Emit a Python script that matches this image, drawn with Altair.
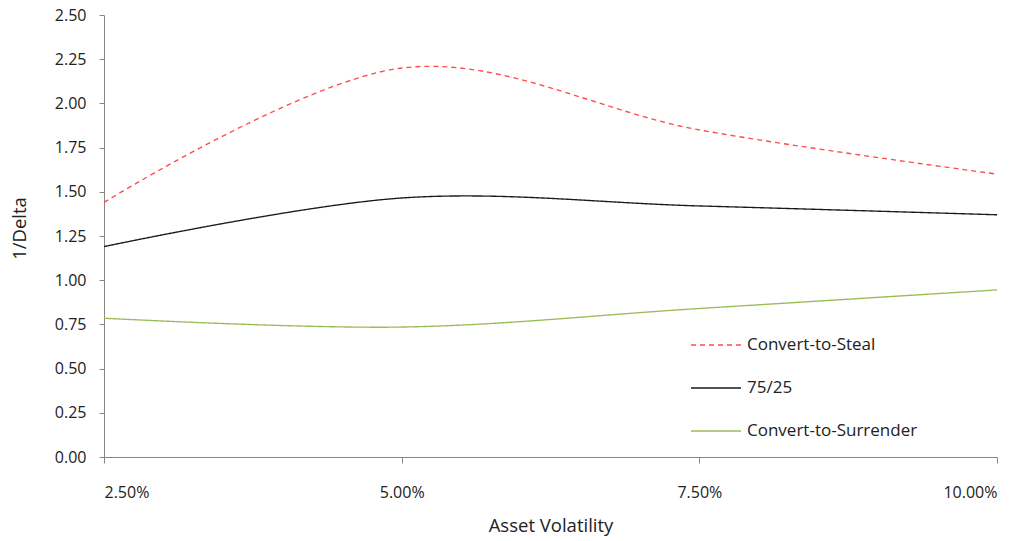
import altair as alt
import pandas as pd

# Asset volatility levels (x) and 1/Delta values for each conversion policy
volatility = [0.025, 0.05, 0.075, 0.10]
convert_to_steal = [1.44, 2.20, 1.85, 1.60]
policy_75_25 = [1.19, 1.465, 1.42, 1.37]
convert_to_surrender = [0.785, 0.735, 0.84, 0.945]

series_names = ["Convert-to-Steal", "75/25", "Convert-to-Surrender"]
series_colors = ["#FF4B4B", "#1A1A1A", "#9BBB59"]
series_dashes = [[5, 4], [1, 0], [1, 0]]

rows = []
for name, vals in zip(series_names, [convert_to_steal, policy_75_25, convert_to_surrender]):
    for x, y in zip(volatility, vals):
        rows.append({"vol": x, "inv_delta": y, "series": name})
df = pd.DataFrame(rows)

FONT = "Open Sans"

chart = (
    alt.Chart(df)
    .mark_line(interpolate="cardinal", strokeWidth=1.35)
    .encode(
        x=alt.X(
            "vol:Q",
            scale=alt.Scale(domain=[0.025, 0.10], nice=False, zero=False),
            axis=alt.Axis(
                title="Asset Volatility",
                format=".2%",
                values=[0.025, 0.05, 0.075, 0.10],
                grid=False,
                tickSize=6,
                labelPadding=21,
                titlePadding=16,
            ),
        ),
        y=alt.Y(
            "inv_delta:Q",
            scale=alt.Scale(domain=[0, 2.5], nice=False),
            axis=alt.Axis(
                title="1/Delta",
                format=".2f",
                values=[i * 0.25 for i in range(11)],
                grid=False,
                tickSize=5,
                labelPadding=13,
                titlePadding=25,
                titleY=213,
            ),
        ),
        color=alt.Color(
            "series:N",
            scale=alt.Scale(domain=series_names, range=series_colors),
            legend=alt.Legend(
                title=None,
                orient="none",
                legendX=586,
                legendY=304,
                symbolType="stroke",
                symbolSize=2500,
                symbolStrokeWidth=1.35,
                rowPadding=9,
                labelOffset=5,
                labelLimit=400,
                labelFontSize=17,
                labelFont=FONT,
                labelColor="#222222",
            ),
        ),
        strokeDash=alt.StrokeDash(
            "series:N",
            scale=alt.Scale(domain=series_names, range=series_dashes),
            legend=None,
        ),
    )
    .properties(
        width=893,
        height=442,
        autosize=alt.AutoSizeParams(type="none"),
        padding={"left": 104, "top": 15, "right": 33, "bottom": 84},
    )
    .configure_view(stroke=None)
    .configure_axis(
        domainColor="#868686",
        tickColor="#868686",
        labelColor="#222222",
        titleColor="#222222",
        labelFont=FONT,
        titleFont=FONT,
        labelFontSize=16,
        titleFontSize=18.5,
        titleFontWeight="normal",
    )
)

chart.save("out.html", embed_options={"renderer": "svg", "actions": False})
